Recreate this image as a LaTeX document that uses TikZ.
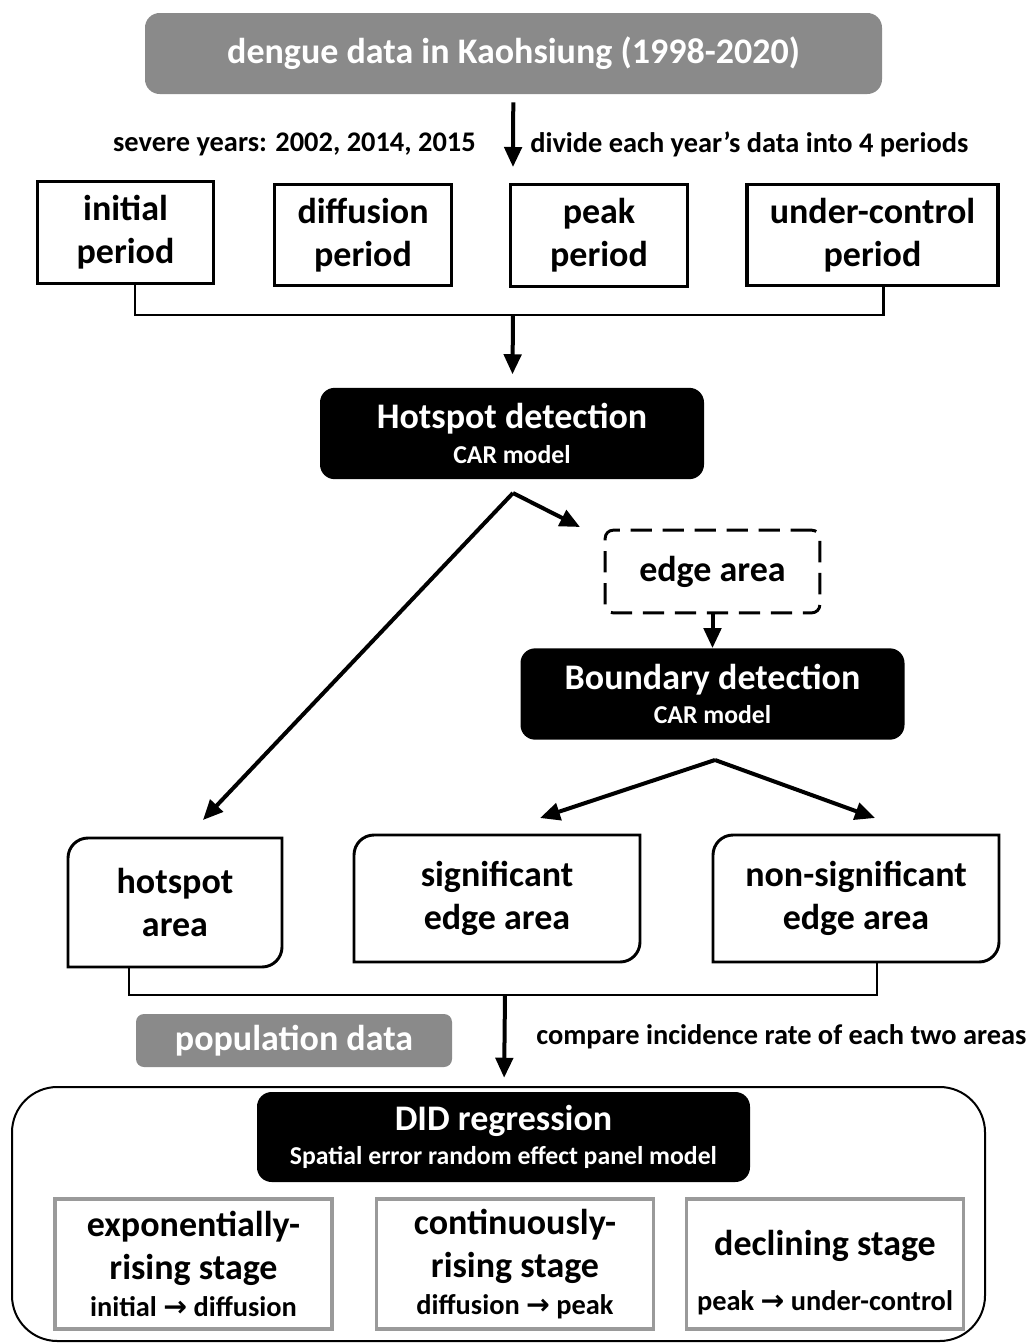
\documentclass[tikz,border=0pt]{standalone}
\usepackage{fontspec}
\setmainfont{Carlito}
\newfontfamily\arrowfont{DejaVu Sans}
\usetikzlibrary{arrows.meta}
\definecolor{datagray}{HTML}{8A8A8A}
\definecolor{stagegray}{HTML}{9A9A9A}
\newcommand{\bigtxt}{\bfseries\fontsize{27}{32}\selectfont}
\newcommand{\smalltxt}{\bfseries\fontsize{19.3}{23}\selectfont}
\newcommand{\labeltxt}{\bfseries\fontsize{21.3}{25}\selectfont}
\newcommand{\goesto}{{\arrowfont\bfseries →}}
\tikzstyle{srcdata} = [rectangle, rounded corners=11pt, fill=datagray, text=white, font=\bigtxt, align=center]
\tikzstyle{period} = [rectangle, draw=black, line width=2.4pt, minimum width=132.5pt, minimum height=76pt, align=center, font=\bigtxt]
\tikzstyle{method} = [rectangle, rounded corners=11pt, fill=black, text=white, minimum width=288pt, minimum height=68.5pt, align=center, font=\bigtxt]
\tikzstyle{edgebox} = [rectangle, rounded corners=6pt, draw=black, dashed, dash pattern=on 16pt off 8pt, line width=2.2pt, minimum width=161pt, minimum height=62pt, font=\bigtxt]
\tikzstyle{area} = [rectangle, minimum width=214.5pt, minimum height=95.25pt, align=center, font=\bigtxt, outer sep=0pt]
\tikzstyle{areaedge} = [line width=2.2pt]
\tikzstyle{stage} = [rectangle, draw=stagegray, line width=2.8pt, minimum width=207.75pt, minimum height=97pt, align=center, font=\bigtxt]
\tikzstyle{lbl} = [font=\labeltxt, inner sep=0pt]
\tikzstyle{arrow} = [line width=3pt, -{Triangle[length=15pt,width=13pt]}]
\tikzstyle{line} = [line width=2.2pt]

\begin{document}
\begin{tikzpicture}[x=0.75pt, y=-0.75pt]
\useasboundingbox (0,0) rectangle (1033,1343);

\node (title) [srcdata, minimum width=552.75pt, minimum height=60.75pt] at (513.5,53.5) {dengue data in Kaohsiung (1998-2020)};
\coordinate (split) at (513,167);
\node (sev) [lbl, anchor=east] at (476,144) {severe years: 2002, 2014, 2015};
\node (div) [lbl, anchor=west] at (530,144) {divide each year’s data into 4 periods};

\node (p1) [period] at (125.5,232.5) {initial\\period};
\node (p2) [period] at (363,235) {diffusion\\period};
\node (p3) [period] at (599,235.5) {peak\\period};
\node (p4) [period, minimum width=188.25pt] at (872.5,235) {under-control\\period};
\coordinate (join1) at (513,315);

\node (hot) [method] at (512,433.5) {Hotspot detection\\[-6pt]{\smalltxt CAR model}};
\coordinate (apex1) at (513,493);
\coordinate (tohot) at (203,820);
\coordinate (toedge) at (580,527);

\node (edge) [edgebox] at (712.5,571.5) {edge area};
\node (bound) [method] at (712.5,694) {Boundary detection\\[-6pt]{\smalltxt CAR model}};
\coordinate (apex2) at (715,760);
\coordinate (tosig) at (540,818);
\coordinate (tonsig) at (875,818);

\node (harea) [area, minimum width=160.5pt, minimum height=96.75pt] at (175,902.5) {hotspot\\area};
\node (sarea) [area] at (497,898.5) {significant\\edge area};
\node (nsarea) [area] at (856,898.5) {non-significant\\edge area};
\coordinate (join2) at (505,995);

\node (pop) [srcdata, rounded corners=6pt, minimum width=237pt, minimum height=39.75pt] at (294,1040.5) {population data};
\node (cmp) [lbl, anchor=west] at (536,1037) {compare incidence rate of each two areas};

% DID block
\draw [line width=1.5pt, rounded corners=34pt] (12,1087) rectangle (985,1341);
\node (did) [method, minimum width=369.75pt, minimum height=67.5pt] at (503.5,1137) {DID regression\\[-7pt]{\smalltxt Spatial error random effect panel model}};
\node (s1) [stage] at (193.5,1264) {exponentially-\\rising stage\\[-4pt]{\labeltxt initial \goesto\ diffusion}};
\node (s2) [stage] at (515,1264) {continuously-\\rising stage\\[-4pt]{\labeltxt diffusion \goesto\ peak}};
\node (s3) [stage] at (825,1264) {\rule{0pt}{32pt}declining stage\\[9.5pt]{\labeltxt peak \goesto\ under-control}};

% area boxes: two rounded corners
\foreach \a in {harea, sarea, nsarea}
  \draw [areaedge] (\a.north) [sharp corners] -- (\a.north east) -- (\a.east)
    [rounded corners=15pt] -- (\a.south east) -- (\a.south)
    [sharp corners] -- (\a.south west) -- (\a.west)
    [rounded corners=15pt] -- (\a.north west) -- cycle;

\draw [arrow, shorten <=6pt] (title) -- (split);
\draw [line] ([xshift=7.1pt]p1.south) |- (join1) -| ([xshift=7.9pt]p4.south);
\draw [arrow, shorten >=10pt] (join1) -- (hot);
\draw [arrow] (apex1) -- (tohot);
\draw [arrow] (apex1) -- (toedge);
\draw [arrow] (edge) -- (bound);
\draw [arrow] (apex2) -- (tosig);
\draw [arrow] (apex2) -- (tonsig);
\draw [line] ([xshift=-34.5pt]harea.south) |- (join2) -| ([xshift=15.75pt]nsarea.south);
\draw [arrow, shorten >=10.5pt] (join2) -- (did);

\end{tikzpicture}
\end{document}
